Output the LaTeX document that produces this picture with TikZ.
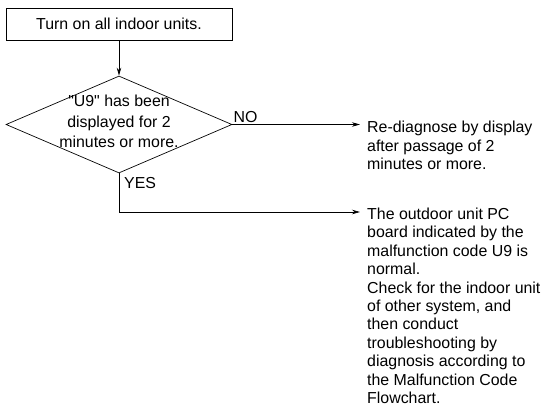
\documentclass[tikz,border=0pt]{standalone}
\usepackage{fontspec}
\setmainfont{Liberation Sans}[Ligatures=TeXOff]
\usetikzlibrary{arrows.meta, shapes.geometric}

\begin{document}
\begin{tikzpicture}[x=1pt, y=-1pt,
  font=\fontsize{15.9}{18.4}\selectfont,
  stepbox/.style={rectangle, draw, line width=0.7pt, minimum width=226pt, minimum height=32pt, inner sep=0},
  decision/.style={diamond, draw, line width=0.7pt, minimum width=226pt, minimum height=97pt, inner sep=0},
  result/.style={align=left, anchor=north west, inner xsep=7pt, inner ysep=0},
  flow/.style={line width=0.7pt, -{Stealth[length=8pt, width=4.5pt]}}]
\useasboundingbox (0,0) rectangle (544,404);

\node[stepbox] (turnon) at (119,24) {Turn on all indoor units.};
\node[decision] (chk) at (119,124.5) {};
\node[align=center, inner sep=0, font=\fontsize{15.9}{20.5}\selectfont] (chktext) at (119,121.8) {"U9" has been\\displayed for 2\\minutes or more.};

\node[result] (redo) at (360,121) {Re-diagnose by display\\after passage of 2\\minutes or more.};
\node[result] (ok) at (360,207.8) {The outdoor unit PC\\board indicated by the\\malfunction code U9 is\\normal.\\Check for the indoor unit\\of other system, and\\then conduct\\troubleshooting by\\diagnosis according to\\the Malfunction Code\\Flowchart.};

% answers
\node[anchor=south west, inner sep=0] (no) at ([xshift=1pt, yshift=1.5pt]chk.east) {NO};
\node[anchor=north west, inner sep=0] (yes) at ([xshift=5pt, yshift=-4pt]chk.south) {YES};

\coordinate (yesturn) at (119,212);
\draw[flow] (turnon.south) -- (chk.north);
\draw[flow] (chk.east) -- (chk.east -| redo.west);
\draw[flow] (chk.south) -- (yesturn) -- (yesturn -| ok.west);
\end{tikzpicture}
\end{document}
